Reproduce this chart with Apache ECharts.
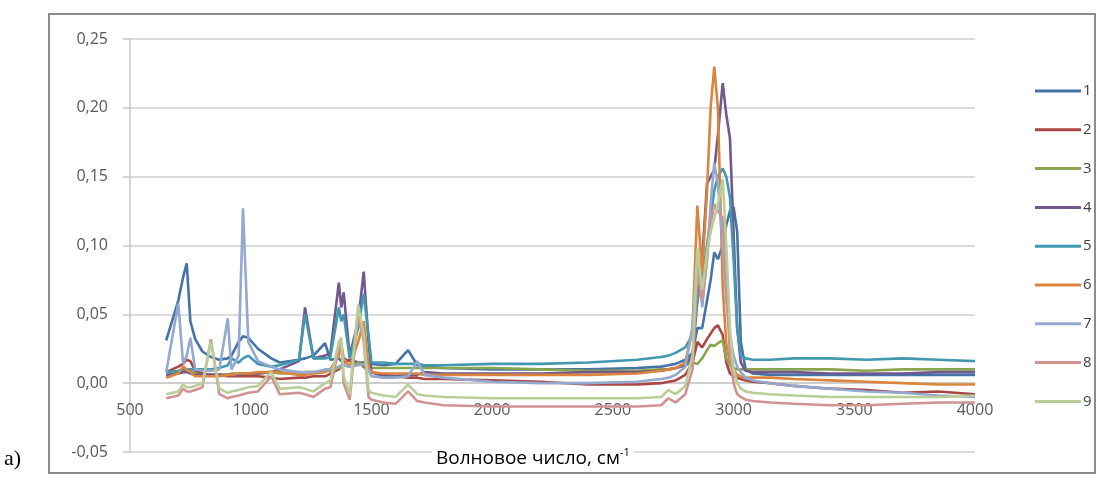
<!DOCTYPE html>
<html>
<head>
<meta charset="utf-8">
<script src="https://cdn.jsdelivr.net/npm/echarts@6/dist/echarts.min.js"></script>
<style>
html,body{margin:0;padding:0;background:#fff;}
#c{width:1099px;height:480px;}
</style>
</head>
<body>
<div id="c"></div>
<script>
// Wavenumber grid, cm^-1
var wn = [650,700,720,735,750,770,800,835,870,905,
  920,950,968,990,1030,1085,1120,1200,1225,1260,
  1308,1330,1365,1375,1385,1410,1445,1468,1488,1500,
  1550,1600,1652,1690,1720,1800,2000,2200,2400,2600,
  2700,2730,2760,2800,2830,2850,2870,2890,2905,2920,
  2935,2955,2970,2985,3000,3015,3030,3050,3080,3150,
  3250,3400,3550,3700,3850,4000];

var s1 = [0.031,0.060,0.077,0.087,0.045,0.032,0.023,0.019,0.017,0.018,
  0.020,0.030,0.034,0.033,0.025,0.018,0.015,0.017,0.018,0.020,
  0.029,0.017,0.018,0.016,0.018,0.016,0.015,0.015,0.015,0.014,
  0.013,0.014,0.024,0.013,0.012,0.011,0.010,0.010,0.010,0.011,
  0.012,0.013,0.014,0.017,0.022,0.040,0.040,0.060,0.075,0.095,
  0.090,0.100,0.115,0.125,0.128,0.110,0.030,0.010,0.007,0.006,
  0.006,0.006,0.006,0.006,0.006,0.006];

var s2 = [0.008,0.012,0.014,0.017,0.016,0.009,0.007,0.006,0.006,0.005,
  0.005,0.005,0.005,0.005,0.005,0.004,0.003,0.004,0.004,0.005,
  0.005,0.007,0.010,0.012,0.015,0.017,0.015,0.012,0.009,0.008,
  0.006,0.005,0.004,0.004,0.003,0.003,0.002,0.001,-0.001,-0.001,
  0.000,0.001,0.002,0.006,0.015,0.030,0.026,0.032,0.036,0.040,
  0.042,0.035,0.015,0.007,0.005,0.004,0.003,0.002,0.001,0.000,
  -0.002,-0.004,-0.005,-0.007,-0.006,-0.008];

var s3 = [0.005,0.008,0.009,0.010,0.009,0.007,0.006,0.006,0.006,0.006,
  0.007,0.007,0.007,0.007,0.007,0.008,0.007,0.007,0.008,0.008,
  0.009,0.009,0.011,0.012,0.013,0.012,0.015,0.013,0.011,0.011,
  0.011,0.011,0.011,0.011,0.011,0.011,0.011,0.010,0.009,0.009,
  0.010,0.010,0.011,0.013,0.015,0.014,0.018,0.024,0.028,0.027,
  0.029,0.031,0.018,0.013,0.011,0.010,0.010,0.010,0.010,0.010,
  0.010,0.010,0.009,0.010,0.010,0.010];

var s4 = [0.006,0.007,0.008,0.008,0.007,0.006,0.006,0.006,0.006,0.006,
  0.006,0.006,0.007,0.007,0.007,0.008,0.010,0.016,0.055,0.018,
  0.020,0.022,0.073,0.055,0.066,0.020,0.045,0.081,0.030,0.008,
  0.005,0.005,0.006,0.006,0.008,0.007,0.007,0.007,0.008,0.008,
  0.009,0.010,0.011,0.013,0.020,0.060,0.090,0.145,0.150,0.155,
  0.180,0.218,0.195,0.178,0.110,0.040,0.015,0.009,0.008,0.008,
  0.008,0.007,0.007,0.007,0.008,0.008];

var s5 = [0.008,0.009,0.010,0.010,0.010,0.010,0.010,0.010,0.011,0.013,
  0.018,0.015,0.018,0.020,0.014,0.012,0.013,0.017,0.050,0.018,
  0.018,0.019,0.055,0.045,0.050,0.018,0.040,0.065,0.035,0.015,
  0.015,0.014,0.014,0.014,0.013,0.013,0.014,0.014,0.015,0.017,
  0.019,0.020,0.022,0.026,0.035,0.060,0.075,0.100,0.120,0.140,
  0.150,0.156,0.150,0.135,0.090,0.040,0.020,0.018,0.017,0.017,
  0.018,0.018,0.017,0.018,0.017,0.016];

var s6 = [0.004,0.007,0.012,0.010,0.008,0.005,0.005,0.005,0.005,0.006,
  0.006,0.007,0.007,0.007,0.008,0.008,0.008,0.006,0.006,0.007,
  0.008,0.010,0.020,0.029,0.018,0.012,0.030,0.045,0.012,0.008,
  0.007,0.007,0.007,0.007,0.006,0.006,0.006,0.006,0.006,0.007,
  0.009,0.010,0.011,0.015,0.040,0.129,0.080,0.140,0.200,0.230,
  0.200,0.070,0.028,0.015,0.010,0.006,0.005,0.004,0.004,0.004,
  0.003,0.002,0.001,0.000,-0.001,-0.001];

var s7 = [0.008,0.058,0.014,0.020,0.033,0.010,0.009,0.009,0.010,0.047,
  0.010,0.020,0.127,0.030,0.016,0.012,0.010,0.008,0.008,0.008,
  0.010,0.010,0.012,0.013,0.013,0.012,0.013,0.014,0.010,0.005,
  0.004,0.004,0.005,0.016,0.006,0.004,0.001,0.000,0.000,0.001,
  0.003,0.004,0.006,0.012,0.040,0.095,0.055,0.090,0.130,0.160,
  0.145,0.100,0.060,0.035,0.020,0.012,0.008,0.004,0.002,0.000,
  -0.002,-0.004,-0.006,-0.007,-0.009,-0.010];

var s8 = [-0.011,-0.009,-0.004,-0.006,-0.006,-0.005,-0.003,0.032,-0.008,-0.011,
  -0.010,-0.009,-0.008,-0.007,-0.006,0.005,-0.008,-0.007,-0.008,-0.010,
  -0.004,-0.003,0.025,0.030,0.000,-0.012,0.050,0.030,-0.010,-0.012,
  -0.014,-0.015,-0.006,-0.013,-0.014,-0.016,-0.017,-0.017,-0.017,-0.017,
  -0.016,-0.011,-0.014,-0.008,0.010,0.080,0.060,0.090,0.115,0.130,
  0.125,0.120,0.070,0.020,0.000,-0.008,-0.010,-0.012,-0.013,-0.014,
  -0.015,-0.016,-0.016,-0.015,-0.014,-0.014];

var s9 = [-0.008,-0.006,-0.001,-0.003,-0.003,-0.002,0.000,0.030,-0.004,-0.007,
  -0.006,-0.005,-0.004,-0.003,-0.002,0.008,-0.004,-0.003,-0.004,-0.006,
  0.000,0.002,0.030,0.033,0.005,-0.008,0.057,0.035,-0.005,-0.007,
  -0.009,-0.010,-0.001,-0.008,-0.009,-0.010,-0.011,-0.011,-0.011,-0.011,
  -0.010,-0.005,-0.008,-0.002,0.020,0.098,0.068,0.095,0.110,0.120,
  0.130,0.148,0.100,0.040,0.010,0.000,-0.004,-0.006,-0.007,-0.008,
  -0.009,-0.010,-0.010,-0.010,-0.010,-0.009];

var seriesNames = ['1','2','3','4','5','6','7','8','9'];
var seriesValues = [s1,s2,s3,s4,s5,s6,s7,s8,s9];
var colors = ['#4572A7','#AA4643','#89A54E','#71588F','#4198AF','#DB843D','#93A9CF','#D19392','#B9CD96'];

var xTicks = {min: 500, max: 4000, interval: 500};
var yTicks = {min: -0.05, max: 0.25, interval: 0.05};
var xTitle = 'Волновое число, см';
var xTitleSup = '-1';
var panelLabel = 'a)';

var chart = echarts.init(document.getElementById('c'), null, {renderer: 'canvas'});

var series = seriesNames.map(function (name, k) {
  return {
    name: name,
    type: 'line',
    showSymbol: false,
    symbol: 'none',
    smooth: false,
    lineStyle: {width: 2.6, color: colors[k]},
    itemStyle: {color: colors[k]},
    emphasis: {disabled: true},
    data: wn.map(function (x, i) { return [x, seriesValues[k][i]]; })
  };
});

var option = {
  animation: false,
  backgroundColor: '#fff',
  color: colors,
  grid: {left: 130, right: 124, top: 39, bottom: 28, containLabel: false, outerBoundsMode: 'none'},
  title: {
    text: '{a|' + xTitle + '}{b|' + xTitleSup + '}',
    left: 432, top: 447,
    padding: [0, 4, 0, 4],
    backgroundColor: '#fff',
    textStyle: {
      fontWeight: 'normal',
      rich: {
        a: {fontFamily: 'Open Sans', fontSize: 19, fontWeight: 'normal', color: '#000', lineHeight: 24},
        b: {fontFamily: 'Open Sans', fontSize: 11, fontWeight: 'normal', color: '#000', verticalAlign: 'top', lineHeight: 14}
      }
    }
  },
  legend: {
    orient: 'vertical',
    left: 1030, top: 78,
    icon: 'rect',
    itemWidth: 46, itemHeight: 3,
    itemGap: 22.8,
    data: seriesNames,
    textStyle: {fontFamily: 'Open Sans', fontSize: 15, color: '#404040', lineHeight: 16, padding: [0,0,0,-3]},
    selectedMode: false
  },
  xAxis: {
    type: 'value',
    position: 'bottom',
    offset: -69,
    min: xTicks.min, max: xTicks.max, interval: xTicks.interval,
    axisLine: {show: true, onZero: false, lineStyle: {color: '#c8c8c8', width: 1.5}},
    axisTick: {show: false},
    splitLine: {show: false},
    axisLabel: {margin: 19, fontFamily: 'Open Sans', fontSize: 16, color: '#595959',
      formatter: function (v) { return String(v); }}
  },
  yAxis: {
    type: 'value',
    min: yTicks.min, max: yTicks.max, interval: yTicks.interval,
    axisLine: {show: true, onZero: false, lineStyle: {color: '#c8c8c8', width: 1.5}},
    axisTick: {show: true, inside: false, length: 7, lineStyle: {color: '#c8c8c8', width: 1.5}},
    splitLine: {show: true, lineStyle: {color: '#d0d0d0', width: 1.5}},
    axisLabel: {
      margin: 22, fontFamily: 'Open Sans', fontSize: 16, color: '#595959',
      formatter: function (v) { return v.toFixed(2).replace('.', ','); }
    }
  },
  graphic: [
    {type: 'rect', silent: true, z: -1,
      shape: {x: 49, y: 14, width: 1046, height: 459},
      style: {fill: 'none', stroke: '#8c8c8c', lineWidth: 2}},
    {type: 'text', silent: true, left: 4, top: 448,
      style: {text: panelLabel, fontFamily: 'Liberation Serif', fontSize: 22, fill: '#000'}}
  ],
  series: series
};
chart.setOption(option);
</script>
</body>
</html>
